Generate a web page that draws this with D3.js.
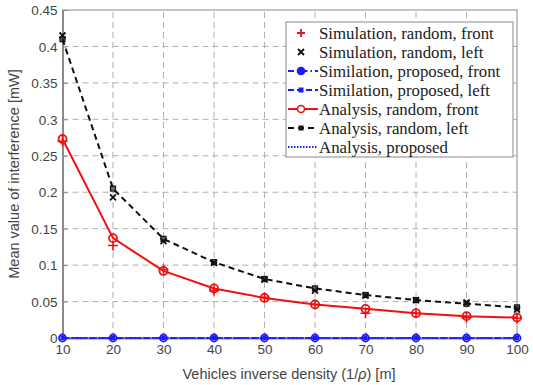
<!DOCTYPE html>
<html>
<head>
<meta charset="utf-8">
<script src="https://cdn.jsdelivr.net/npm/d3@7"></script>
<style>
body { margin: 0; background: #fff; }
</style>
</head>
<body>
<script>
// data
const density = [10, 20, 30, 40, 50, 60, 70, 80, 90, 100];
const simRandomFront = [0.270, 0.127, 0.094, 0.065, 0.056, 0.046, 0.034, 0.034, 0.028, 0.027];
const simRandomLeft = [0.415, 0.193, 0.133, 0.103, 0.080, 0.065, 0.058, 0.052, 0.049, 0.039];
const simProposedFront = [0, 0, 0, 0, 0, 0, 0, 0, 0, 0];
const simProposedLeft = [0, 0, 0, 0, 0, 0, 0, 0, 0, 0];
const anaRandomFront = [0.273, 0.137, 0.092, 0.068, 0.055, 0.046, 0.040, 0.034, 0.030, 0.028];
const anaRandomLeft = [0.410, 0.205, 0.136, 0.104, 0.081, 0.068, 0.059, 0.052, 0.047, 0.042];
const anaProposed = [0, 0, 0, 0, 0, 0, 0, 0, 0, 0];
const yTicks = [0, 0.05, 0.1, 0.15, 0.2, 0.25, 0.3, 0.35, 0.4, 0.45];
const legendLabels = [
  "Simulation, random, front",
  "Simulation, random, left",
  "Similation, proposed, front",
  "Similation, proposed, left",
  "Analysis, random, front",
  "Analysis, random, left",
  "Analysis, proposed"
];

const width = 533, height = 385;
const margin = {top: 10, right: 16, bottom: 47, left: 62.5};

const svg = d3.select("body").append("svg")
    .attr("width", width)
    .attr("height", height);

const x = d3.scaleLinear().domain([10, 100]).range([margin.left, width - margin.right]);
const y = d3.scaleLinear().domain([0, 0.45]).range([height - margin.bottom, margin.top]);

// grid
const grid = svg.append("g").attr("stroke", "#b0b0b0").attr("stroke-dasharray", "6,4").attr("stroke-width", 1);
grid.selectAll(".gx").data(density.slice(1, -1)).enter().append("line")
    .attr("x1", d => x(d)).attr("x2", d => x(d))
    .attr("y1", y(0)).attr("y2", y(0.45));
grid.selectAll(".gy").data(yTicks.slice(1, -1)).enter().append("line")
    .attr("x1", x(10)).attr("x2", x(100))
    .attr("y1", d => y(d)).attr("y2", d => y(d));

// frame
svg.append("rect")
    .attr("x", x(10)).attr("y", y(0.45))
    .attr("width", x(100) - x(10)).attr("height", y(0) - y(0.45))
    .attr("fill", "none").attr("stroke", "#8a8a8a").attr("stroke-width", 1);

// axes
const xAxis = svg.append("g")
    .attr("transform", `translate(0,${y(0)})`)
    .call(d3.axisBottom(x).tickValues(density).tickSizeInner(-5).tickSizeOuter(0).tickPadding(6));
const yAxis = svg.append("g")
    .attr("transform", `translate(${x(10)},0)`)
    .call(d3.axisLeft(y).tickValues(yTicks).tickFormat(d => d === 0 ? "0" : d3.format("")(+d.toFixed(2))).tickSizeInner(-5).tickSizeOuter(0).tickPadding(5));
[xAxis, yAxis].forEach(a => {
  a.select(".domain").attr("stroke", "#8a8a8a").attr("stroke-width", 2);
  a.selectAll(".tick line").attr("stroke", "#8a8a8a");
  a.selectAll("text").attr("fill", "#444").style("font-family", "Liberation Sans, Arial, sans-serif").style("font-size", "13.5px");
});
yAxis.selectAll("text").attr("dy", "0.35em");

svg.append("text")
    .attr("x", 289).attr("y", 379)
    .attr("text-anchor", "middle")
    .attr("fill", "#444")
    .style("font-family", "Liberation Sans, Arial, sans-serif").style("font-size", "14.5px")
    .html("Vehicles inverse density (1/<tspan font-style='italic'>ρ</tspan>) [m]");

svg.append("text")
    .attr("transform", `translate(19,${(y(0) + y(0.45)) / 2}) rotate(-90)`)
    .attr("text-anchor", "middle")
    .attr("fill", "#444")
    .style("font-family", "Liberation Sans, Arial, sans-serif").style("font-size", "14.5px")
    .text("Mean value of interference [mW]");

const line = d3.line().x((d, i) => x(density[i])).y(d => y(d));
const plot = svg.append("g");

function drawLine(vals, color, dash, w) {
  plot.append("path").datum(vals).attr("d", line)
      .attr("fill", "none").attr("stroke", color).attr("stroke-width", w)
      .attr("stroke-dasharray", dash);
}
function circles(g, vals, color, r) {
  g.selectAll(null).data(vals).enter().append("circle")
    .attr("cx", (d, i) => x(density[i])).attr("cy", d => y(d)).attr("r", r)
    .attr("fill", "none").attr("stroke", color).attr("stroke-width", 1.8);
}
function squares(g, vals, color, s) {
  g.selectAll(null).data(vals).enter().append("rect")
    .attr("x", (d, i) => x(density[i]) - s / 2).attr("y", d => y(d) - s / 2)
    .attr("width", s).attr("height", s)
    .attr("fill", color).attr("fill-opacity", 0.6).attr("stroke", color).attr("stroke-width", 1.2);
}
function plus(g, vals, color, s) {
  g.selectAll(null).data(vals).enter().append("path")
    .attr("d", (d, i) => { const cx = x(density[i]), cy = y(d); return `M${cx - s},${cy}H${cx + s}M${cx},${cy - s}V${cy + s}`; })
    .attr("stroke", color).attr("stroke-width", 1.6);
}
function cross(g, vals, color, s) {
  g.selectAll(null).data(vals).enter().append("path")
    .attr("d", (d, i) => { const cx = x(density[i]), cy = y(d); return `M${cx - s},${cy - s}L${cx + s},${cy + s}M${cx - s},${cy + s}L${cx + s},${cy - s}`; })
    .attr("stroke", color).attr("stroke-width", 1.8);
}

// blue proposed series on zero
drawLine(anaProposed, "#2020ff", "1.5,1.5", 1.5);
drawLine(simProposedLeft, "#1a1aff", "6,3", 1.5);
drawLine(simProposedFront, "#1a1aff", "6,3,1.5,3", 1.5);
circles(plot, simProposedFront, "#1a1aff", 3.5);
squares(plot, simProposedLeft, "#1a1aff", 3);

// random series
drawLine(anaRandomLeft, "#111", "6,4", 2);
squares(plot, anaRandomLeft, "#111", 5);
drawLine(anaRandomFront, "#f01010", null, 2);
circles(plot, anaRandomFront, "#f01010", 4);
plus(plot, simRandomFront, "#f01010", 5);
cross(plot, simRandomLeft, "#111", 3);

// legend
const lg = svg.append("g");
lg.append("rect").attr("x", 286).attr("y", 22).attr("width", 227).attr("height", 135)
  .attr("fill", "#fff").attr("stroke", "#8a8a8a").attr("stroke-width", 1);
const lx1 = 288, lx2 = 318, lmx = 301;
const rowY = i => 33 + i * 19;
const items = [
  {color: "#f01010", dash: null, line: false, mark: "plus"},
  {color: "#111", dash: null, line: false, mark: "cross"},
  {color: "#1a1aff", dash: "6,3,1.5,3", line: true, mark: "circle"},
  {color: "#1a1aff", dash: "6,3", line: true, mark: "square"},
  {color: "#f01010", dash: null, line: true, mark: "circle"},
  {color: "#111", dash: "6,4", line: true, mark: "square"},
  {color: "#2020ff", dash: "1.5,1.5", line: true, mark: null}
];
items.forEach((it, i) => {
  const yy = rowY(i);
  const g = lg.append("g");
  if (it.line) g.append("line").attr("x1", lx1).attr("x2", lx2).attr("y1", yy).attr("y2", yy)
      .attr("stroke", it.color).attr("stroke-width", 2).attr("stroke-dasharray", it.dash);
  if (it.mark === "plus") g.append("path").attr("d", `M${lmx - 4},${yy}H${lmx + 4}M${lmx},${yy - 4}V${yy + 4}`).attr("stroke", it.color).attr("stroke-width", 1.8);
  if (it.mark === "cross") g.append("path").attr("d", `M${lmx - 3},${yy - 3}L${lmx + 3},${yy + 3}M${lmx - 3},${yy + 3}L${lmx + 3},${yy - 3}`).attr("stroke", it.color).attr("stroke-width", 1.8);
  if (it.mark === "circle") g.append("circle").attr("cx", lmx).attr("cy", yy).attr("r", 3.5).attr("fill", it.color === "#1a1aff" ? it.color : "#fff").attr("stroke", it.color).attr("stroke-width", 1.6);
  if (it.mark === "square") g.append("rect").attr("x", lmx - 2.5).attr("y", yy - 2.5).attr("width", 5).attr("height", 5).attr("fill", it.color);
  g.append("text").attr("transform", `translate(319,${yy}) scale(1.02,1)`).attr("dy", "0.35em")
    .attr("fill", "#222")
    .style("font-family", "Liberation Serif, Times New Roman, serif").style("font-size", "16.5px")
    .text(legendLabels[i]);
});
</script>
</body>
</html>
